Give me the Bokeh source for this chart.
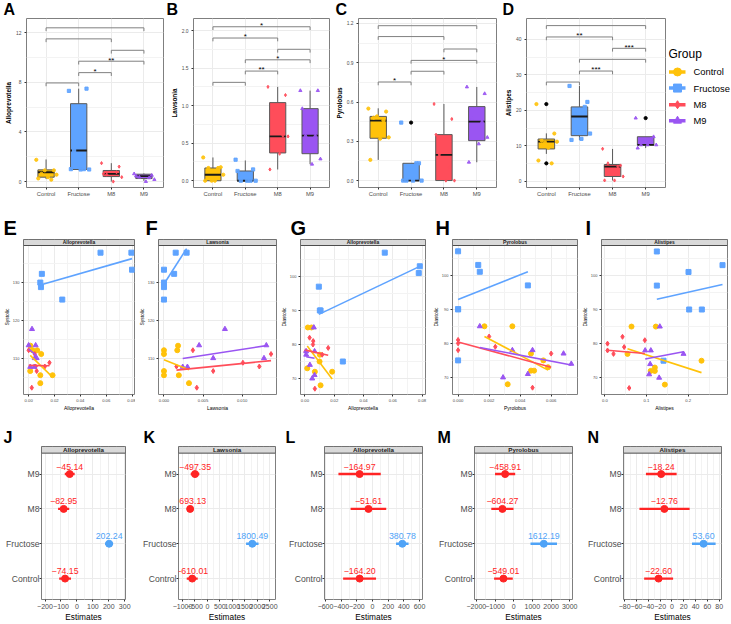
import numpy as np
from bokeh.plotting import figure
from bokeh.models import Range1d, FixedTicker
from bokeh.layouts import row, column
from bokeh.embed import file_html
from bokeh.resources import INLINE
from bokeh.core.properties import value

FONT = "Liberation Sans"
GROUPS = ["Control", "Fructose", "M8", "M9"]
COLORS = ["#FFC20A", "#5EA3FF", "#FF4D5A", "#9A55F2"]
MARKERS = ["circle", "square", "diamond", "triangle"]
NEG_COL = "#FF2424"
POS_COL = "#4FA3F7"
JIT = [-0.30, 0.24, -0.14, 0.32, 0.06, -0.24, 0.16, -0.04]
W = 731

# ---------------- top row: box plots ----------------
BR_PAIRS = [(1, 2), (2, 3), (2, 4), (3, 4), (1, 3), (1, 4)]

A_q1 = [0.35, 0.97, 0.40, 0.24]
A_med = [0.75, 2.50, 0.62, 0.43]
A_q3 = [0.94, 6.27, 0.89, 0.59]
A_lo = [0.20, 0.97, 0.00, 0.05]
A_hi = [1.78, 7.48, 1.48, 0.65]
A_pts = [[1.75, 0.90, 0.62, 0.55, 0.35, 0.25, 0.15, 0.90],
         [7.30, 7.48, 2.50, 0.97, 0.97, 1.00, 1.00],
         [1.48, 1.20, 0.56, 0.35, 0.00, 0.62, 0.75],
         [0.62, 0.50, 0.35, 0.16, 0.00, 0.45, 0.30]]
A_out = [[], [], [], []]
A_br_y = [7.94, 8.77, 9.69, 10.57, 11.49, 12.38]
A_br_lab = ["", "*", "**", "", "", ""]

B_q1 = [0.00, 0.00, 0.37, 0.36]
B_med = [0.08, 0.00, 0.59, 0.60]
B_q3 = [0.17, 0.13, 1.04, 0.96]
B_lo = [0.00, 0.00, 0.15, 0.22]
B_hi = [0.31, 0.27, 1.25, 1.20]
B_pts = [[0.31, 0.18, 0.17, 0.08, 0.00, 0.00, 0.17, 0.00],
         [0.28, 0.15, 0.00, 0.00, 0.00, 0.13, 0.00],
         [1.25, 1.14, 0.94, 0.59, 0.36, 0.15, 0.60],
         [1.20, 1.20, 0.60, 0.29, 0.22, 0.96, 0.60]]
B_out = [[], [], [], []]
B_br_y = [1.31, 1.46, 1.61, 1.75, 1.90, 2.05]
B_br_lab = ["", "**", "*", "", "*", "*"]

C_q1 = [0.323, 0.000, 0.000, 0.305]
C_med = [0.458, 0.000, 0.196, 0.450]
C_q3 = [0.490, 0.132, 0.351, 0.565]
C_lo = [0.158, 0.000, 0.000, 0.140]
C_hi = [0.552, 0.132, 0.585, 0.715]
C_pts = [[0.55, 0.527, 0.48, 0.33, 0.32, 0.158, 0.46, 0.49],
         [0.443, 0.132, 0.0, 0.0, 0.0, 0.0, 0.132],
         [0.585, 0.47, 0.196, 0.0, 0.0, 0.35, 0.10],
         [0.715, 0.664, 0.476, 0.33, 0.28, 0.14, 0.45]]
C_out = [[], [0.443], [], []]
C_br_y = [0.753, 0.835, 0.918, 1.005, 1.10, 1.183]
C_br_lab = ["*", "", "*", "", "", ""]

D_q1 = [9.16, 12.9, 1.40, 10.3]
D_med = [11.2, 18.3, 4.20, 10.3]
D_q3 = [11.96, 21.0, 4.77, 12.6]
D_lo = [7.76, 11.7, 0.28, 9.4]
D_hi = [13.55, 26.9, 9.16, 12.6]
D_pts = [[21.8, 13.5, 11.5, 11.2, 9.5, 5.9, 5.1, 11.0],
         [26.9, 22.4, 19.6, 13.5, 12.0, 11.7, 21.0],
         [9.2, 4.5, 5.1, 1.4, 0.28, 0.3, 4.2],
         [17.85, 12.6, 10.3, 10.3, 10.3, 9.4, 11.9]]
D_out = [[21.8, 5.1], [], [], [17.85]]
D_br_y = [28.0, 31.1, 34.4, 37.5, 40.7, 43.9]
D_br_lab = ["", "***", "", "***", "**", ""]

# ---------------- middle row: scatter plots ----------------
SYS = [[113.3, 112.1, 112.1, 111.1, 106.6, 105.5, 105.5, 103.4],
       [137.9, 137.9, 133.4, 132.3, 130.0, 128.8, 125.5],
       [112.1, 111.1, 108.8, 107.8, 107.8, 106.6, 102.2],
       [117.7, 113.4, 113.4, 110.0, 110.0, 107.7, 107.7]]
DIA = [[85, 85, 77, 75, 73, 72, 72, 68],
       [107, 103, 101, 97, 90, 90, 75],
       [82, 81, 80, 79, 78, 77, 67],
       [85, 78, 78, 77, 74, 71, 70]]
E_x = [[0.0014, 0.0066, 0.0031, 0.0097, 0.0012, 0.0090, 0.0185, 0.0090],
       [0.0556, 0.0795, 0.0800, 0.0102, 0.0090, 0.0095, 0.0260],
       [0.0000, 0.0047, 0.0161, 0.0125, 0.0054, 0.0062, 0.0024],
       [0.0026, 0.0000, 0.0054, 0.0062, 0.0047, 0.0012, 0.0043]]
F_x = [[0.0018, 0.0000, 0.0017, 0.0000, 0.0000, 0.0000, 0.0019, 0.0032],
       [0.0015, 0.0029, 0.0000, 0.0013, 0.0000, 0.0000, 0.0000],
       [0.0037, 0.0137, 0.0101, 0.0016, 0.0122, 0.0063, 0.0042],
       [0.0078, 0.0045, 0.0131, 0.0063, 0.0128, 0.0024, 0.0030]]
G_x = [[0.0020, 0.0045, 0.0102, 0.0100, 0.0016, 0.0068, 0.0186, 0.0107],
       [0.0545, 0.0784, 0.0777, 0.0095, 0.0102, 0.0107, 0.0259],
       [0.0032, 0.0057, 0.0055, 0.0159, 0.0005, 0.0118, 0.0068],
       [0.0061, 0.0066, 0.0009, 0.0009, 0.0034, 0.0066, 0.0050]]
H_x = [[0.0017, 0.0035, 0.0047, 0.0055, 0.0058, 0.0047, 0.0049, 0.0032],
       [0.0000, 0.0013, 0.0014, 0.0045, 0.0000, 0.0000, 0.0000],
       [0.0020, 0.0000, 0.0000, 0.0024, 0.0000, 0.0060, 0.0048],
       [0.0014, 0.0035, 0.0048, 0.0068, 0.0073, 0.0045, 0.0029]]
I_x = [[0.064, 0.1224, 0.0544, 0.232, 0.120, 0.120, 0.110, 0.144],
       [0.1248, 0.2824, 0.2008, 0.1248, 0.2024, 0.2328, 0.1408],
       [0.0424, 0.096, 0.0064, 0.0464, 0.0064, 0.0208, 0.0584],
       [0.132, 0.0968, 0.1104, 0.1888, 0.1088, 0.1064, 0.1304]]

# ---------------- bottom row: forest plots ----------------
J_est = [-74.15, 202.24, -82.95, -45.14]
J_lo = [-111, 177, -118, -76]
J_hi = [-37, 227, -48, -14]
K_est = [-610.01, 1800.49, -693.13, -497.35]
K_lo = [-830, 1550, -810, -670]
K_hi = [-390, 2050, -575, -325]
L_est = [-164.20, 380.78, -51.61, -164.97]
L_lo = [-375, 300, -280, -435]
L_hi = [45, 460, 175, 105]
M_est = [-549.01, 1612.19, -604.27, -458.91]
M_lo = [-1050, 900, -1200, -1000]
M_hi = [-50, 2320, -10, 80]
N_est = [-22.60, 53.60, -12.76, -18.24]
N_lo = [-47, 34, -55, -44]
N_hi = [2, 74, 30, 8]


def minus(s):
    return s.replace("-", "\u2212")


def PX(v):
    return f"{v:.2f}px"


def base_fig(w, h, ml, mr, mt, mb, xr, yr):
    p = figure(width=w, height=h, x_range=Range1d(*xr), y_range=Range1d(*yr),
               output_backend="svg", toolbar_location=None, title=None,
               min_border_left=ml, min_border_right=mr,
               min_border_top=mt, min_border_bottom=mb)
    p.outline_line_color = "#7F7F7F"
    p.outline_line_width = 1
    p.background_fill_color = "white"
    p.border_fill_color = "white"
    p.grid.grid_line_color = "#EBEBEB"
    p.grid.minor_grid_line_color = "#F3F3F3"
    return p


def style_axes(p, xfs, yfs, labfs, bold=False, standoff=1):
    for ax in p.axis:
        ax.axis_line_color = None
        ax.major_tick_line_color = "#333333"
        ax.minor_tick_line_color = None
        ax.major_tick_out = 2
        ax.major_tick_in = 0
        ax.major_label_text_font = FONT
        ax.axis_label_text_font = FONT
        ax.major_label_text_color = "#4D4D4D"
        ax.axis_label_text_color = "black"
        ax.major_label_standoff = standoff
        ax.axis_label_standoff = standoff
        ax.axis_label_text_font_size = PX(labfs)
        ax.axis_label_text_font_style = "bold" if bold else "normal"
    p.xaxis.major_label_text_font_size = PX(xfs)
    p.yaxis.major_label_text_font_size = PX(yfs)


def set_ticks(ax, ticks, labels, minor=()):
    ax.ticker = FixedTicker(ticks=list(ticks), minor_ticks=list(minor))
    ax.major_label_overrides = {t: l for t, l in zip(ticks, labels)}


def letters_header(h, letters, xs, top_y, fs):
    s = figure(width=W, height=h, x_range=Range1d(0, W), y_range=Range1d(h, 0),
               x_axis_type=None, y_axis_type=None, output_backend="svg",
               toolbar_location=None, title=None, min_border=0)
    s.outline_line_color = None
    s.background_fill_color = "white"
    s.border_fill_color = "white"
    s.text(x=xs, y=[top_y] * len(xs), text=letters, text_align="left",
           text_baseline="top", text_font=value(FONT), text_font_style="bold",
           text_font_size=PX(fs), text_color="black")
    return s


def add_strip(p, xr, y0, y1, txt, fs):
    p.quad(left=[xr[0]], right=[xr[1]], bottom=[y0], top=[y1], fill_color="#D9D9D9",
           line_color="#4D4D4D", line_width=1)
    p.text(x=[(xr[0] + xr[1]) / 2], y=[(y0 + y1) / 2], text=[txt], text_align="center",
           text_baseline="middle", text_font=value(FONT), text_font_style="bold",
           text_font_size=PX(fs), text_color="#1A1A1A")


def box_panel(ylab, q1, med, q3, lo, hi, pts, outs, br_y, br_lab, yr, yt, ylabs, ymt, geom):
    w, ml, mr = geom
    H, MT, MB = 196, 0, 27
    p = base_fig(w, H, ml, mr, MT, MB, (0.4, 4.6), yr)
    xs = [1, 2, 3, 4]
    p.segment(x0=xs, y0=q3, x1=xs, y1=hi, line_color="#595959", line_width=1)
    p.segment(x0=xs, y0=lo, x1=xs, y1=q1, line_color="#595959", line_width=1)
    p.vbar(x=xs, width=0.5, bottom=q1, top=q3, fill_color=COLORS,
           line_color="#595959", line_width=1)
    p.segment(x0=[x - 0.25 for x in xs], y0=med, x1=[x + 0.25 for x in xs], y1=med,
              line_color="#1A1A1A", line_width=1.8)
    for i, vals in enumerate(outs):
        if vals:
            p.scatter([i + 1] * len(vals), vals, size=3.2, color="black")
    for i, vals in enumerate(pts):
        jx = [i + 1 + JIT[k % len(JIT)] for k in range(len(vals))]
        p.scatter(jx, vals, size=3.2, color=COLORS[i], marker=MARKERS[i], alpha=0.9)
    span = yr[1] - yr[0]
    fh = H - MT - MB
    tick = 3.3 / fh * span
    x0, y0, x1, y1 = [], [], [], []
    for (i, j), y in zip(BR_PAIRS, br_y):
        x0 += [i, i, j]; x1 += [j, i, j]
        y0 += [y, y, y]; y1 += [y, y - tick, y - tick]
    p.segment(x0=x0, y0=y0, x1=x1, y1=y1, line_color="#808080", line_width=1)
    tx, ty, tt = [], [], []
    for (i, j), y, lab in zip(BR_PAIRS, br_y, br_lab):
        if lab:
            tx.append((i + j) / 2); ty.append(y + 1.2 / fh * span); tt.append(lab)
    p.text(x=tx, y=ty, text=tt, text_align="center", text_baseline="alphabetic",
           text_font_size=PX(8), text_font=value(FONT), text_color="black")
    style_axes(p, 5.8, 4.9, 6.4, bold=True)
    set_ticks(p.xaxis[0], xs, GROUPS)
    set_ticks(p.yaxis[0], yt, ylabs, ymt)
    p.xgrid.ticker = FixedTicker(ticks=xs)
    p.ygrid.ticker = FixedTicker(ticks=list(yt), minor_ticks=list(ymt))
    p.yaxis.axis_label = ylab
    return p


def scatter_panel(strip_txt, xlab, ylab, xs_g, ys_g, xr, yr, xt, xlabs, xmt, yt, ymt, geom):
    w, ml, mr = geom
    H, MB, STRIP, FH = 189, 34, 6, 149
    top = yr[1] + STRIP / FH * (yr[1] - yr[0])
    p = base_fig(w, H, ml, mr, 0, MB, xr, (yr[0], top))
    for i in range(4):
        x = np.array(xs_g[i], dtype=float)
        y = np.array(ys_g[i], dtype=float)
        p.scatter(x, y, size=5, marker=MARKERS[i], color=COLORS[i])
    for i in range(4):
        x = np.array(xs_g[i], dtype=float)
        y = np.array(ys_g[i], dtype=float)
        b, a = np.polyfit(x, y, 1)
        lx0, lx1 = x.min(), x.max()
        p.line([lx0, lx1], [a + b * lx0, a + b * lx1], color=COLORS[i], line_width=1.6)
    add_strip(p, xr, yr[1], top, strip_txt, 4.9)
    style_axes(p, 4.2, 4.0, 5.0, standoff=0)
    set_ticks(p.xaxis[0], xt, xlabs, xmt)
    set_ticks(p.yaxis[0], yt, [str(v) for v in yt], ymt)
    p.xgrid.ticker = FixedTicker(ticks=list(xt), minor_ticks=list(xmt))
    p.ygrid.ticker = FixedTicker(ticks=list(yt), minor_ticks=list(ymt))
    p.xaxis.axis_label = xlab
    p.yaxis.axis_label = ylab
    return p


def forest_panel(strip_txt, est, lo, hi, xr, xt, xmt, geom):
    w, ml, mr = geom
    H, MB, STRIP, FH = 178, 17, 7, 154
    top = 4.6 + STRIP / FH * 4.2
    p = base_fig(w, H, ml, mr, 0, MB, xr, (0.4, top))
    ys = [1, 2, 3, 4]
    cols = [POS_COL if e > 0 else NEG_COL for e in est]
    p.segment(x0=lo, y0=ys, x1=hi, y1=ys, line_color=cols, line_width=2.4)
    p.scatter(est, ys, size=7, color=cols)
    p.text(x=est, y=[y + 0.13 for y in ys], text=[minus(f"{e:.2f}") for e in est],
           text_color=cols, text_align="center", text_baseline="bottom",
           text_font=value(FONT), text_font_size=PX(8.8))
    add_strip(p, xr, 4.6, top, strip_txt, 6.2)
    style_axes(p, 7.0, 8.6, 8.3, standoff=0)
    set_ticks(p.xaxis[0], xt, [minus(str(v)) for v in xt], xmt)
    set_ticks(p.yaxis[0], ys, GROUPS)
    p.xgrid.ticker = FixedTicker(ticks=list(xt), minor_ticks=list(xmt))
    p.ygrid.ticker = FixedTicker(ticks=ys)
    p.xaxis.axis_label = "Estimates"
    return p


# ---------------- build ----------------
pA = box_panel("Alloprevotella", A_q1, A_med, A_q3, A_lo, A_hi, A_pts, A_out,
               A_br_y, A_br_lab, (-0.48, 13.13), [0, 4, 8, 12], ["0", "4", "8", "12"],
               [2, 6, 10], (166, 26, 3))
pB = box_panel("Lawsonia", B_q1, B_med, B_q3, B_lo, B_hi, B_pts, B_out,
               B_br_y, B_br_lab, (-0.09, 2.16), [0, 0.5, 1.0, 1.5, 2.0],
               ["0.0", "0.5", "1.0", "1.5", "2.0"], [0.25, 0.75, 1.25, 1.75], (166, 27, 3))
pC = box_panel("Pyrolobus", C_q1, C_med, C_q3, C_lo, C_hi, C_pts, C_out,
               C_br_y, C_br_lab, (-0.053, 1.238), [0, 0.3, 0.6, 0.9, 1.2],
               ["0.0", "0.3", "0.6", "0.9", "1.2"], [0.15, 0.45, 0.75, 1.05], (167, 25, 3))
pD = box_panel("Alistipes", D_q1, D_med, D_q3, D_lo, D_hi, D_pts, D_out,
               D_br_y, D_br_lab, (-1.7, 45.9), [0, 10, 20, 30, 40],
               ["0", "10", "20", "30", "40"], [5, 15, 25, 35], (169, 27, 3))

leg = figure(width=63, height=196, x_range=Range1d(0, 63), y_range=Range1d(196, 0),
             x_axis_type=None, y_axis_type=None, output_backend="svg",
             toolbar_location=None, title=None, min_border=0)
leg.outline_line_color = None
leg.text(x=[0], y=[41], text=["Group"], text_baseline="middle", text_font=value(FONT),
         text_font_size=PX(12), text_color="black")
LEG_Y = [62, 80.7, 100, 118.7]
for i, g in enumerate(GROUPS):
    leg.line([0.5, 17], [LEG_Y[i], LEG_Y[i]], color=COLORS[i], line_width=3.5)
    leg.scatter([9], [LEG_Y[i]], marker=MARKERS[i], size=8, color=COLORS[i])
leg.text(x=[25] * 4, y=LEG_Y, text=GROUPS, text_baseline="middle", text_font=value(FONT),
         text_font_size=PX(9.4), text_color="black")

XT_A = [0, 0.02, 0.04, 0.06, 0.08]
XL_A = ["0.00", "0.02", "0.04", "0.06", "0.08"]
XM_A = [0.01, 0.03, 0.05, 0.07]
pE = scatter_panel("Alloprevotella", "Alloprevotella", "Systolic", E_x, SYS,
                   (-0.004, 0.0819), (100.4, 139.8), XT_A, XL_A, XM_A,
                   [110, 120, 130], [105, 115, 125, 135], (135, 23, 1))
pF = scatter_panel("Lawsonia", "Lawsonia", "Systolic", F_x, SYS,
                   (-0.0007, 0.0144), (100.4, 139.8), [0, 0.005, 0.01],
                   ["0.000", "0.005", "0.010"], [0.0025, 0.0075, 0.0125],
                   [110, 120, 130], [105, 115, 125, 135], (142, 23, 1))
pG = scatter_panel("Alloprevotella", "Alloprevotella", "Diastolic", G_x, DIA,
                   (-0.003, 0.0823), (65.3, 109.1), XT_A, XL_A, XM_A,
                   [70, 80, 90, 100], [75, 85, 95, 105], (152, 23, 4))
pH = scatter_panel("Pyrolobus", "Pyrolobus", "Diastolic", H_x, DIA,
                   (-0.00036, 0.0077), (65.0, 108.7), [0, 0.002, 0.004, 0.006],
                   ["0.000", "0.002", "0.004", "0.006"], [0.001, 0.003, 0.005, 0.007],
                   [70, 80, 90, 100], [75, 85, 95, 105], (149, 23, 1))
pI = scatter_panel("Alistipes", "Alistipes", "Diastolic", I_x, DIA,
                   (-0.008, 0.2944), (65.1, 108.75), [0, 0.1, 0.2],
                   ["0.0", "0.1", "0.2"], [0.05, 0.15, 0.25],
                   [70, 80, 90, 100], [75, 85, 95, 105], (153, 23, 4))

pJ = forest_panel("Alloprevotella", J_est, J_lo, J_hi, (-222, 305),
                  [-200, -100, 0, 100, 200, 300], [-150, -50, 50, 150, 250], (137, 41, 12))
pK = forest_panel("Lawsonia", K_est, K_lo, K_hi, (-1160, 2730),
                  [-1000, -500, 0, 500, 1000, 1500, 2000, 2500],
                  [-750, -250, 250, 750, 1250, 1750, 2250], (146, 41, 8))
pL = forest_panel("Alloprevotella", L_est, L_lo, L_hi, (-613, 638),
                  [-600, -400, -200, 0, 200, 400, 600], [-500, -300, -100, 100, 300, 500],
                  (150, 41, 11))
pM = forest_panel("Pyrolobus", M_est, M_lo, M_hi, (-2100, 3150),
                  [-2000, -1000, 0, 1000, 2000, 3000], [-1500, -500, 500, 1500, 2500],
                  (149, 41, 10))
pN = forest_panel("Alistipes", N_est, N_lo, N_hi, (-82, 84),
                  [-80, -60, -40, -20, 0, 20, 40, 60, 80],
                  [-70, -50, -30, -10, 10, 30, 50, 70], (149, 41, 10))

hdr1 = letters_header(18, ["A", "B", "C", "D"], [3, 166, 335, 502], 0, 16)
hdr2 = letters_header(25, ["E", "F", "G", "H", "I"], [3, 145, 290, 435, 585], 2.2, 20)
hdr3 = letters_header(18, ["J", "K", "L", "M", "N"], [3, 143, 285, 437, 587], 0, 16)

layout = column(
    hdr1,
    row(pA, pB, pC, pD, leg, spacing=0),
    hdr2,
    row(pE, pF, pG, pH, pI, spacing=0),
    hdr3,
    row(pJ, pK, pL, pM, pN, spacing=0),
    spacing=0,
)

open("out.html", "w").write(file_html(layout, INLINE, title="chart"))
